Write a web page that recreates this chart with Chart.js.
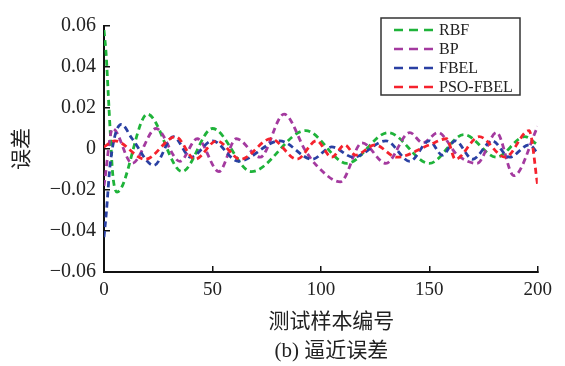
<!DOCTYPE html>
<html>
<head>
<meta charset="utf-8">
<script src="https://cdn.jsdelivr.net/npm/chart.js@4"></script>
<style>
  html, body { margin: 0; padding: 0; background: #fff; }
  #wrap { width: 565px; height: 366px; }
</style>
</head>
<body>
<div id="wrap"><canvas id="errChart" width="565" height="366"></canvas></div>
<script>
// series (sample index, error)
const seriesNames = ["RBF", "BP", "FBEL", "PSO-FBEL"];
const seriesColors = ["#1fb33a", "#a43a9f", "#2a40a3", "#f5222d"];

const rbfX = [0, 1, 2, 3, 4, 6, 8, 20, 36, 50, 68, 93, 112, 131, 150, 166, 181, 194, 200];
const rbfY = [0.058, 0.046, 0.026, 0.006, -0.012, -0.021, -0.019, 0.017, -0.011, 0.010, -0.011, 0.009, -0.007, 0.008, -0.007, 0.007, -0.004, 0.006, 0.002];

const bpX = [0, 4, 13, 24, 35, 43, 53, 61, 72, 83, 93, 98, 109, 119, 130, 141, 147, 154, 163, 172, 181, 189, 200];
const bpY = [-0.018, 0.010, -0.007, 0.010, -0.006, 0.005, -0.011, 0.005, -0.004, 0.017, -0.001, -0.008, -0.016, 0.003, -0.007, 0.008, 0.003, 0.008, -0.003, -0.007, 0.008, -0.013, 0.011];

const fbelX = [0, 1, 3, 8, 13, 23, 32, 40, 50, 62, 81, 96, 105, 115, 130, 141, 150, 156, 162, 170, 179, 187, 196, 200];
const fbelY = [-0.043, -0.032, -0.006, 0.012, 0.005, -0.008, 0.006, -0.004, 0.004, -0.006, 0.004, -0.005, 0.001, -0.004, 0.004, -0.006, 0.004, -0.003, 0.004, -0.005, 0.004, -0.004, 0.002, -0.002];

const psoX = [0, 5, 19, 33, 42, 52, 63, 77, 89, 98, 105, 111, 116, 125, 135, 150, 158, 162, 173, 185, 196, 200];
const psoY = [0.001, 0.004, -0.005, 0.006, -0.005, 0.004, -0.005, 0.005, -0.005, 0.004, -0.004, 0.002, -0.003, 0.002, -0.004, 0.002, 0.005, -0.005, 0.006, -0.004, 0.009, -0.018];

const xTicks = [0, 50, 100, 150, 200];
const yTicks = [-0.06, -0.04, -0.02, 0, 0.02, 0.04, 0.06];

const serif = "'Liberation Serif', 'Noto Sans CJK SC', serif";

function toPoints(xs, ys) {
  return xs.map((x, i) => ({ x: x, y: ys[i] }));
}

function fmtY(v) {
  const r = Math.round(v * 100) / 100;
  if (r === 0) return "0";
  return (r < 0 ? "\u2212" : "") + Math.abs(r).toFixed(2);
}

const allX = [rbfX, bpX, fbelX, psoX];
const allY = [rbfY, bpY, fbelY, psoY];

const datasets = seriesNames.map((name, i) => ({
  label: name,
  data: toPoints(allX[i], allY[i]),
  borderColor: seriesColors[i],
  borderWidth: 2.8,
  borderDash: [6, 4],
  pointRadius: 0,
  cubicInterpolationMode: "monotone",
  fill: false,
  order: seriesNames.length - i
}));

// boxed legend in the upper right, like the original figure
const legendBox = {
  id: "legendBox",
  afterDraw(chart) {
    const ctx = chart.ctx;
    const bx = 381, by = 18, bw = 139, bh = 77;
    ctx.save();
    ctx.fillStyle = "#fff";
    ctx.fillRect(bx, by, bw, bh);
    ctx.strokeStyle = "#333";
    ctx.lineWidth = 1.5;
    ctx.strokeRect(bx, by, bw, bh);
    chart.data.datasets.forEach((ds, i) => {
      const yy = 30 + i * 19;
      ctx.setLineDash([9, 6]);
      ctx.strokeStyle = ds.borderColor;
      ctx.lineWidth = 2.6;
      ctx.beginPath();
      ctx.moveTo(394, yy);
      ctx.lineTo(433, yy);
      ctx.stroke();
      ctx.setLineDash([]);
      ctx.fillStyle = "#222";
      ctx.font = "16px " + serif;
      ctx.textBaseline = "middle";
      ctx.textAlign = "left";
      ctx.fillText(ds.label, 439, yy + 1);
    });
    ctx.restore();
  }
};

new Chart(document.getElementById("errChart"), {
  type: "line",
  data: { datasets },
  options: {
    responsive: false,
    animation: false,
    layout: { padding: { left: 0, right: 27, top: 13, bottom: 0 } },
    plugins: {
      legend: { display: false },
      tooltip: { enabled: false }
    },
    scales: {
      x: {
        type: "linear",
        min: 0,
        max: 200,
        afterBuildTicks(scale) { scale.ticks = xTicks.map(v => ({ value: v })); },
        afterFit(scale) { scale.height = 94; },
        border: { display: true, color: "#111", width: 2 },
        grid: { drawOnChartArea: false, drawTicks: true, tickLength: -6, color: "#111", lineWidth: 1.5 },
        ticks: { color: "#222", padding: 13, maxRotation: 0, font: { family: serif, size: 19 } },
        title: {
          display: true,
          text: ["\u2003测试样本编号", "\u2003(b) 逼近误差"],
          color: "#222",
          font: { family: serif, size: 21, lineHeight: 1.38 },
          padding: { top: 0, bottom: 0 }
        }
      },
      y: {
        type: "linear",
        min: -0.06,
        max: 0.06,
        afterBuildTicks(scale) { scale.ticks = yTicks.map(v => ({ value: v })); },
        afterFit(scale) { scale.width = 104; },
        border: { display: true, color: "#111", width: 2 },
        grid: { drawOnChartArea: false, drawTicks: true, tickLength: -6, color: "#111", lineWidth: 1.5 },
        ticks: { color: "#222", padding: 14, callback: v => fmtY(v), font: { family: serif, size: 20 } },
        title: {
          display: true,
          text: "误差",
          color: "#222",
          font: { family: serif, size: 21 },
          padding: { top: 10, bottom: 0 }
        }
      }
    }
  },
  plugins: [legendBox]
});
</script>
</body>
</html>
